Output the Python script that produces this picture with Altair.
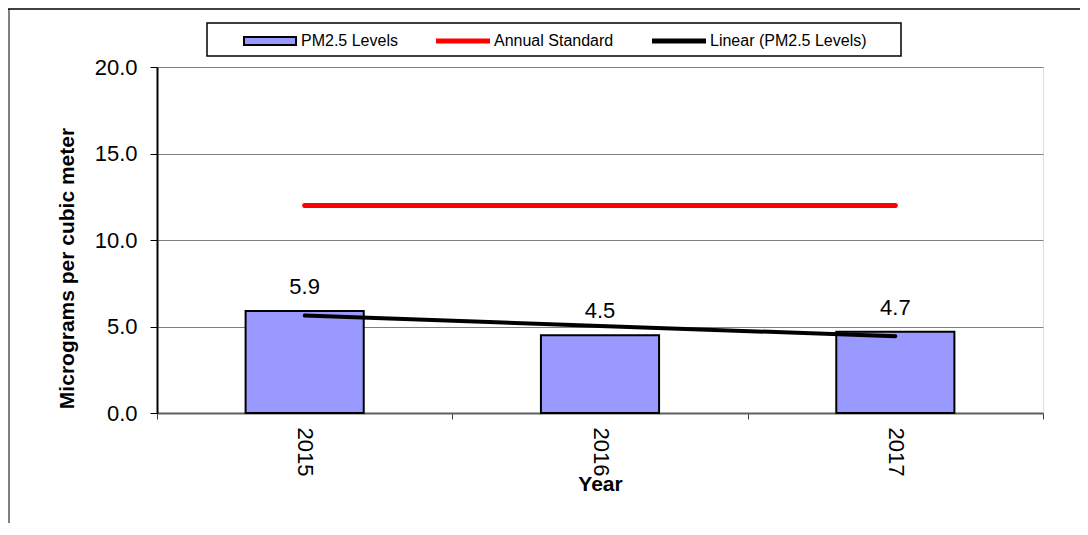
import altair as alt
import pandas as pd
import numpy as np

# ---- data ----
years = ["2015", "2016", "2017"]
pm25 = [5.9, 4.5, 4.7]
standard = [12.0, 12.0, 12.0]
series_names = ["PM2.5 Levels", "Annual Standard", "Linear (PM2.5 Levels)"]
y_ticks = [0, 5, 10, 15, 20]

# linear trend of the PM2.5 levels (as the spreadsheet trendline)
idx = np.arange(len(years))
slope, intercept = np.polyfit(idx, pm25, 1)
trend = [float(v) for v in slope * idx + intercept]

df = pd.DataFrame({"year": years, "pm25": pm25, "standard": standard, "trend": trend})
legend_df = pd.DataFrame({"series": series_names})

# ---- styles ----
FONT = "Liberation Sans"
W, H = 886, 346
fill_colors = ["#9999FF", "#FF0000", "#000000"]
stroke_colors = ["#000000", "#FF0000", "#000000"]
symbol_paths = [
    "M-1,-0.15H1V0.15H-1Z",
    "M-1,-0.058H1V0.058H-1Z",
    "M-1,-0.058H1V0.058H-1Z",
]

x_axis = alt.Axis(
    title="Year", titleFont=FONT, titleFontSize=21, titleFontWeight="bold",
    titleColor="black", titleY=77, titleBaseline="alphabetic",
    labelAngle=90, labelAlign="left", labelBaseline="middle",
    labelFont=FONT, labelFontSize=22, labelColor="black", labelPadding=8,
    tickBand="extent", tickSize=6, tickColor="#404040", tickWidth=1,
    domainColor="#606060", domainWidth=2, grid=False,
)
y_axis = alt.Axis(
    title="Micrograms per cubic meter", values=y_ticks, format=".1f",
    labelFont=FONT, labelFontSize=22, labelColor="black", labelPadding=13,
    tickSize=7, tickColor="black", tickWidth=1,
    domainColor="black", domainWidth=2,
    grid=True, gridColor="#808080", gridWidth=1,
    titleFont=FONT, titleFontSize=21, titleFontWeight="bold", titleColor="black",
    titleAngle=270, titleX=-84, titleY=201, titleBaseline="alphabetic", titleAlign="center",
)
x_scale = alt.Scale(paddingInner=0, paddingOuter=0)
y_scale = alt.Scale(domain=[0, 20], nice=False)


def X():
    return alt.X("year:N", scale=x_scale, axis=x_axis, sort=years)


def Y(field):
    return alt.Y(f"{field}:Q", scale=y_scale, axis=y_axis)


base = alt.Chart(df)

bars = base.mark_bar(
    fill="#9999FF", stroke="black", strokeWidth=2, width=alt.RelativeBandSize(0.4)
).encode(x=X(), y=Y("pm25"))
std_line = base.mark_line(color="#FF0000", strokeWidth=5, strokeCap="round").encode(x=X(), y=Y("standard"))
trend_line = base.mark_line(color="black", strokeWidth=4, strokeCap="round").encode(x=X(), y=Y("trend"))
labels = base.mark_text(
    dy=-17, fontSize=22, font=FONT, baseline="alphabetic", align="center", color="black"
).encode(x=X(), y=Y("pm25"), text=alt.Text("pm25:Q", format=".1f"))

leg = alt.Legend(
    title=None, orient="none", legendX=86, legendY=-53, direction="horizontal",
    labelFont=FONT, labelFontSize=16, labelColor="black", labelLimit=300,
    symbolSize=2704, symbolStrokeWidth=2, columnPadding=35, labelOffset=4, padding=0,
)
legend_layer = alt.Chart(legend_df).transform_filter("false").mark_point(
    filled=True, opacity=1, size=100
).encode(
    color=alt.Color("series:N", scale=alt.Scale(domain=series_names, range=fill_colors), legend=leg),
    stroke=alt.Stroke("series:N", scale=alt.Scale(domain=series_names, range=stroke_colors), legend=leg),
    shape=alt.Shape("series:N", scale=alt.Scale(domain=series_names, range=symbol_paths), legend=leg),
)

# decorations: outer frame and legend box
deco = alt.Data(values=[{"d": 1}])
frame_left = alt.Chart(deco).mark_rule(color="#808080", strokeWidth=2).encode(
    x=alt.value(-148), y=alt.value(-58), y2=alt.value(H + 110)
)
frame_top = alt.Chart(deco).mark_rule(color="black", strokeWidth=1.5).encode(
    x=alt.value(-149), x2=alt.value(923), y=alt.value(-58)
)
legend_box = alt.Chart(deco).mark_rect(fill="white", stroke="black", strokeWidth=1.5).encode(
    x=alt.value(50), x2=alt.value(744), y=alt.value(-44), y2=alt.value(-11)
)

chart = alt.layer(
    frame_left, frame_top, legend_box, bars, std_line, trend_line, labels, legend_layer
).properties(
    width=W, height=H,
    autosize=alt.AutoSizeParams(type="none"),
    padding={"left": 149, "top": 59, "right": 37, "bottom": 110},
).configure_view(
    stroke="#808080", strokeWidth=2
).configure(background="white")

chart.save("out.html", embed_options={"renderer": "svg", "actions": False})
